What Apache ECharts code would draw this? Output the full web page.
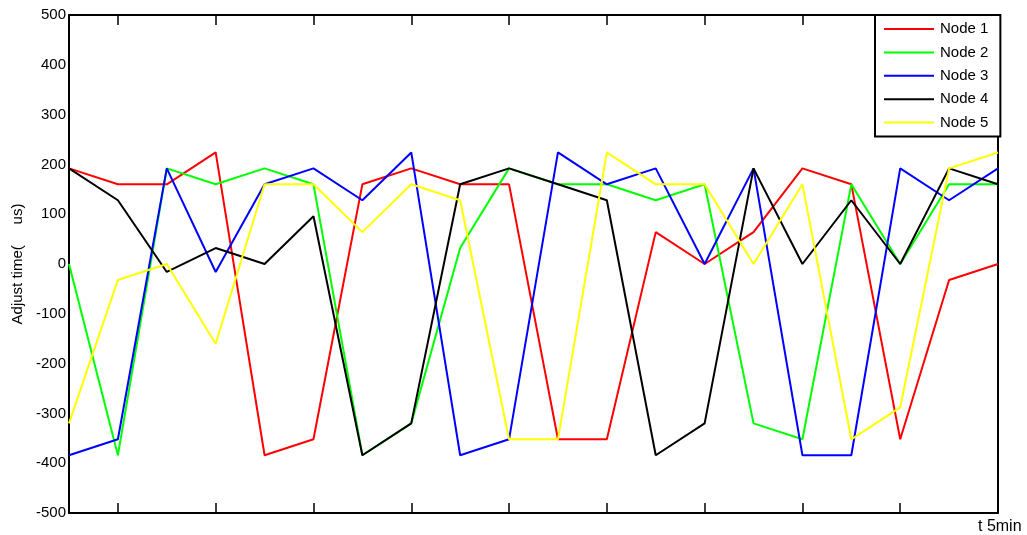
<!DOCTYPE html>
<html>
<head>
<meta charset="utf-8">
<script src="https://cdn.jsdelivr.net/npm/echarts@6/dist/echarts.min.js"></script>
<style>
  html, body { margin: 0; padding: 0; background: #fff; }
  #chart { width: 1027px; height: 535px; }
</style>
</head>
<body>
<div id="chart"></div>
<script>
var steps = ['1', '2', '3', '4', '5', '6', '7', '8', '9', '10',
             '11', '12', '13', '14', '15', '16', '17', '18', '19', '20'];

var node1 = [192, 160, 160, 224, -384, -352, 160, 192, 160, 160, -352, -352, 64, 0, 64, 192, 160, -352, -32, 0];
var node2 = [0, -384, 192, 160, 192, 160, -384, -320, 32, 192, 160, 160, 128, 160, -320, -352, 160, 0, 160, 160];
var node3 = [-384, -352, 192, -16, 160, 192, 128, 224, -384, -352, 224, 160, 192, 0, 192, -384, -384, 192, 128, 192];
var node4 = [192, 128, -16, 32, 0, 96, -384, -320, 160, 192, 160, 128, -384, -320, 192, 0, 128, 0, 192, 160];
var node5 = [-320, -32, 0, -160, 160, 160, 64, 160, 128, -352, -352, 224, 160, 160, 0, 160, -352, -288, 192, 224];

var names = ['Node 1', 'Node 2', 'Node 3', 'Node 4', 'Node 5'];
var colors = ['#ff0000', '#00ff00', '#0000ff', '#000000', '#ffff00'];
var values = [node1, node2, node3, node4, node5];

var font = 'Arial, "Liberation Sans", sans-serif';

// matlab style: ticks on every other step, pointing inward
function oddTick(i) {
    return i % 2 === 1;
}

var axisLine = { show: true, onZero: false, lineStyle: { color: '#000', width: 2 } };
var tickStyle = { inside: true, length: 10, lineStyle: { color: '#000', width: 1.5 } };

var series = [];
for (var i = 0; i < names.length; i++) {
    series.push({
        name: names[i],
        type: 'line',
        data: values[i],
        symbol: 'none',
        color: colors[i],
        lineStyle: { width: 2, color: colors[i] },
        animation: false
    });
}

var option = {
    backgroundColor: '#fff',
    grid: { left: 69, right: 29, top: 15, bottom: 22, outerBoundsMode: 'none', containLabel: false },
    legend: {
        orient: 'vertical',
        left: 875,
        top: 15,
        data: names,
        icon: 'rect',
        itemWidth: 50,
        itemHeight: 2,
        itemGap: 7.4,
        padding: [6, 12, 6, 9],
        backgroundColor: '#fff',
        borderColor: '#000',
        borderWidth: 2,
        borderRadius: 0,
        textStyle: { fontFamily: font, fontSize: 15, color: '#000', lineHeight: 16, padding: [0, 0, 0, 1] }
    },
    xAxis: [{
        type: 'category',
        data: steps,
        boundaryGap: false,
        position: 'bottom',
        axisLine: axisLine,
        axisTick: Object.assign({ interval: oddTick }, tickStyle),
        axisLabel: { show: false },
        splitLine: { show: false },
        name: 't 5min',
        nameLocation: 'end',
        nameGap: -20,
        nameTextStyle: { fontFamily: font, fontSize: 16, color: '#000', align: 'left', verticalAlign: 'top', padding: [6, 0, 0, 0] }
    }, {
        type: 'category',
        data: steps,
        boundaryGap: false,
        position: 'top',
        axisLine: axisLine,
        axisTick: Object.assign({ interval: oddTick }, tickStyle),
        axisLabel: { show: false },
        splitLine: { show: false }
    }],
    yAxis: [{
        type: 'value',
        min: -500,
        max: 500,
        interval: 100,
        position: 'left',
        axisLine: axisLine,
        axisTick: tickStyle,
        axisLabel: { fontFamily: font, fontSize: 15, color: '#000', margin: 3 },
        splitLine: { show: false },
        name: 'Adjust time(     us)',
        nameLocation: 'middle',
        nameGap: 44,
        nameTextStyle: { fontFamily: font, fontSize: 15, color: '#000' }
    }, {
        type: 'value',
        min: -500,
        max: 500,
        interval: 100,
        position: 'right',
        axisLine: axisLine,
        axisTick: tickStyle,
        axisLabel: { show: false },
        splitLine: { show: false }
    }],
    series: series
};

var myChart = echarts.init(document.getElementById('chart'));
myChart.setOption(option);
</script>
</body>
</html>
